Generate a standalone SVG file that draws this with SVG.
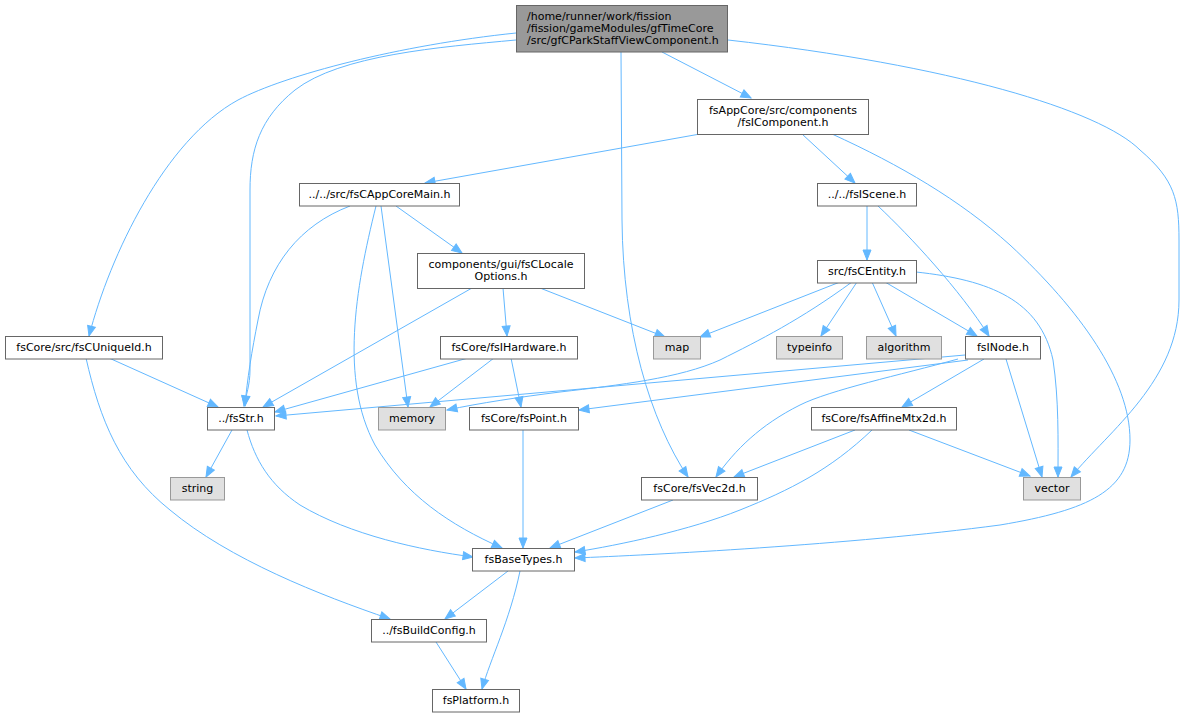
<svg xmlns="http://www.w3.org/2000/svg" width="1184" height="717" viewBox="0 0 1184 717">
<style>
.n rect{fill:#ffffff;stroke:#666666;stroke-width:1}
.g rect{fill:#e0e0e0;stroke:#999999;stroke-width:1}
.t rect{fill:#999999;stroke:#666666;stroke-width:1}
text{font-family:"DejaVu Sans","Liberation Sans",sans-serif;font-size:11px;fill:#000000}
.c{text-anchor:middle}
#edges path{fill:none;stroke:#63b8ff;stroke-width:1;marker-end:url(#ah)}
</style>
<defs>
<marker id="ah" markerUnits="userSpaceOnUse" markerWidth="12" markerHeight="10" refX="10" refY="4" orient="auto" viewBox="0 0 12 8" overflow="visible">
<path d="M0,0 L10,4 L0,8 z" fill="#63b8ff" stroke="#63b8ff" stroke-width="1"/>
</marker>
</defs>
<rect width="1184" height="717" fill="#ffffff"/>
<g id="edges">
<path d="M662,52 L751,98"/>
<path d="M516,33 C400,45 285,75 238,100 C165,140 110,255 89,336"/>
<path d="M516,40 C440,47 340,55 295,90 C260,118 250,150 250,190 L250,370 C250,385 246,395 244,406"/>
<path d="M621,52 L622,220 C623,330 650,420 688,477"/>
<path d="M728,40 C950,65 1100,110 1140,150 C1175,180 1179,200 1179,240 L1179,300 C1179,380 1110,430 1071,477"/>
<path d="M700,134 L425,183"/>
<path d="M802,134 L855,183"/>
<path d="M832,134 C900,165 960,200 1010,245 C1080,310 1130,380 1130,440 C1130,490 1090,510 1000,525 C850,545 650,555 575,558"/>
<path d="M396,206 L462,253"/>
<path d="M350,206 C300,225 268,265 258,320 C252,350 247,380 245,406"/>
<path d="M381,206 L408,407"/>
<path d="M376,206 C355,290 340,380 375,445 C405,495 450,525 502,548"/>
<path d="M867,206 L867,260"/>
<path d="M878,206 C910,236 960,290 989,336"/>
<path d="M472,288 L263,407"/>
<path d="M503,288 L507,336"/>
<path d="M540,288 L665,337"/>
<path d="M840,282 L700,337"/>
<path d="M852,282 C800,320 760,340 720,360 C680,378 620,385 560,392 C520,397 480,403 447,410"/>
<path d="M857,282 L821,336"/>
<path d="M872,282 L896,336"/>
<path d="M885,282 L977,336"/>
<path d="M916,272 C990,280 1040,300 1053,360 C1059,400 1058,440 1058,477"/>
<path d="M468,358 L275,412"/>
<path d="M494,358 L430,407"/>
<path d="M511,358 L521,407"/>
<path d="M109,358 L218,407"/>
<path d="M86,358 C100,420 120,470 170,510 C230,560 320,595 390,619"/>
<path d="M965,355 L276,416"/>
<path d="M968,360 L579,410"/>
<path d="M984,359 L902,407"/>
<path d="M1006,359 L1042,477"/>
<path d="M958,359 C900,375 830,390 800,405 C760,425 735,450 716,477"/>
<path d="M855,430 L734,477"/>
<path d="M909,430 L1030,476"/>
<path d="M872,430 C830,470 790,490 740,510 C690,530 620,545 575,552"/>
<path d="M232,430 L206,477"/>
<path d="M247,430 C255,460 270,485 300,505 C350,535 420,550 473,557"/>
<path d="M523,430 L523,548"/>
<path d="M673,500 L550,548"/>
<path d="M508,571 L445,619"/>
<path d="M520,571 C510,620 490,660 482,689"/>
<path d="M436,642 L466,689"/>
</g>
<g id="n0" class="t"><rect x="516.5" y="5.5" width="211" height="46.5"/><text x="527" y="19.5">/home/runner/work/fission</text><text x="527" y="31.5">/fission/gameModules/gfTimeCore</text><text x="527" y="43.5">/src/gfCParkStaffViewComponent.h</text></g>
<g id="n1" class="n"><rect x="697.5" y="99.5" width="171" height="35"/><text class="c" x="783" y="114">fsAppCore/src/components</text><text class="c" x="783" y="125.5">/fsIComponent.h</text></g>
<g id="n2" class="n"><rect x="299.5" y="183.5" width="160" height="22.5"/><text class="c" x="379.5" y="198">../../src/fsCAppCoreMain.h</text></g>
<g id="n3" class="n"><rect x="817.5" y="183.5" width="99" height="22.5"/><text class="c" x="867" y="198">../../fsIScene.h</text></g>
<g id="n4" class="n"><rect x="417.5" y="253.5" width="167" height="35"/><text class="c" x="501" y="268">components/gui/fsCLocale</text><text class="c" x="501" y="279.5">Options.h</text></g>
<g id="n5" class="n"><rect x="817.5" y="260.5" width="99" height="22.5"/><text class="c" x="867" y="275">src/fsCEntity.h</text></g>
<g id="n6" class="n"><rect x="5.5" y="336.5" width="157" height="22.5"/><text class="c" x="84" y="350.5">fsCore/src/fsCUniqueId.h</text></g>
<g id="n7" class="n"><rect x="440.5" y="336.5" width="137" height="22.5"/><text class="c" x="509" y="350.5">fsCore/fsIHardware.h</text></g>
<g id="n8" class="g"><rect x="653.5" y="336.5" width="47" height="22.5"/><text class="c" x="677" y="350.5">map</text></g>
<g id="n9" class="g"><rect x="776.5" y="336.5" width="66" height="22.5"/><text class="c" x="809.5" y="350.5">typeinfo</text></g>
<g id="n10" class="g"><rect x="866.5" y="336.5" width="75" height="22.5"/><text class="c" x="904" y="350.5">algorithm</text></g>
<g id="n11" class="n"><rect x="965.5" y="336.5" width="75" height="22.5"/><text class="c" x="1003" y="350.5">fsINode.h</text></g>
<g id="n12" class="n"><rect x="207.5" y="407.5" width="67" height="22.5"/><text class="c" x="241" y="421.5">../fsStr.h</text></g>
<g id="n13" class="g"><rect x="378.5" y="407.5" width="67" height="22.5"/><text class="c" x="412" y="421.5">memory</text></g>
<g id="n14" class="n"><rect x="469.5" y="407.5" width="109" height="22.5"/><text class="c" x="524" y="421.5">fsCore/fsPoint.h</text></g>
<g id="n15" class="n"><rect x="811.5" y="407.5" width="145" height="22.5"/><text class="c" x="884" y="421.5">fsCore/fsAffineMtx2d.h</text></g>
<g id="n16" class="g"><rect x="170.5" y="477.5" width="54" height="22.5"/><text class="c" x="197.5" y="491.5">string</text></g>
<g id="n17" class="n"><rect x="641.5" y="477.5" width="116" height="22.5"/><text class="c" x="699.5" y="491.5">fsCore/fsVec2d.h</text></g>
<g id="n18" class="g"><rect x="1023.5" y="477.5" width="57" height="22.5"/><text class="c" x="1052" y="491.5">vector</text></g>
<g id="n19" class="n"><rect x="472.5" y="548.5" width="102" height="22.5"/><text class="c" x="523.5" y="562.5">fsBaseTypes.h</text></g>
<g id="n20" class="n"><rect x="371.5" y="619.5" width="115" height="22.5"/><text class="c" x="429" y="633.5">../fsBuildConfig.h</text></g>
<g id="n21" class="n"><rect x="432.5" y="689.5" width="87" height="22.5"/><text class="c" x="476" y="703.5">fsPlatform.h</text></g>
</svg>
